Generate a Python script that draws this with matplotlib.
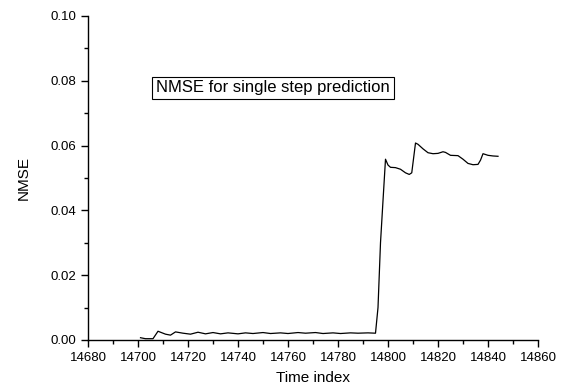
import matplotlib
matplotlib.use("Agg")
import matplotlib.pyplot as plt
from matplotlib.ticker import MultipleLocator

plt.rcParams['font.family'] = ['Liberation Sans', 'DejaVu Sans']

time_index = [14701, 14703, 14706, 14708, 14711, 14713, 14715, 14718, 14721, 14724,
              14727, 14730, 14733, 14736, 14740, 14743, 14746, 14750, 14753, 14757,
              14760, 14764, 14767, 14771, 14774, 14778, 14781, 14785, 14788, 14792,
              14795, 14796, 14797, 14798, 14799, 14800, 14801, 14803, 14805, 14807,
              14808.5, 14809.5, 14811, 14812, 14814, 14816, 14818, 14820, 14822, 14823,
              14825, 14828, 14830, 14832, 14834, 14836, 14837, 14838, 14840, 14842,
              14844]
nmse = [0.0007, 0.0004, 0.0004, 0.0027, 0.0018, 0.0015, 0.0025, 0.0021, 0.0018, 0.0024,
        0.0019, 0.0023, 0.0019, 0.0022, 0.0019, 0.0022, 0.0020, 0.0023, 0.0020, 0.0022,
        0.0020, 0.0023, 0.0021, 0.0023, 0.0020, 0.0022, 0.0020, 0.0022, 0.0021, 0.0022,
        0.0021, 0.0100, 0.0300, 0.0430, 0.0558, 0.0540, 0.0533, 0.0532, 0.0527, 0.0516,
        0.0511, 0.0516, 0.0608, 0.0604, 0.0590, 0.0578, 0.0575, 0.0576, 0.0581, 0.0579,
        0.0570, 0.0569, 0.0558, 0.0545, 0.0541, 0.0542, 0.0555, 0.0575, 0.0570, 0.0568,
        0.0567]

x_ticks = [14680, 14700, 14720, 14740, 14760, 14780, 14800, 14820, 14840, 14860]
y_ticks = [0.00, 0.02, 0.04, 0.06, 0.08, 0.10]
title_text = "NMSE for single step prediction"

fig = plt.figure(figsize=(5.61, 3.87), dpi=100)
ax = fig.add_axes([88/561, 1 - 340/387, 450/561, 324/387])
ax.plot(time_index, nmse, color='black', linewidth=0.9)

ax.set_xlim(14680, 14860)
ax.set_ylim(0.0, 0.10)
ax.set_xticks(x_ticks)
ax.set_yticks(y_ticks)
ax.set_yticklabels([f"{v:.2f}" for v in y_ticks])
ax.xaxis.set_minor_locator(MultipleLocator(10))
ax.yaxis.set_minor_locator(MultipleLocator(0.01))
ax.tick_params(which='major', direction='out', length=5, width=1, labelsize=9.5, pad=3.5)
ax.tick_params(which='minor', direction='out', length=3, width=1)
for s in ['top', 'right']:
    ax.spines[s].set_visible(False)
for s in ['left', 'bottom']:
    ax.spines[s].set_linewidth(1)

ax.set_xlabel("Time index", fontsize=11, labelpad=5)
ax.set_ylabel("NMSE", fontsize=11, labelpad=14)

ax.text(14754, 0.0778, title_text, fontsize=12, ha='center', va='center',
        bbox=dict(boxstyle='square,pad=0.22', facecolor='white', edgecolor='black', linewidth=0.8))

fig.savefig("out.png", dpi=100)
